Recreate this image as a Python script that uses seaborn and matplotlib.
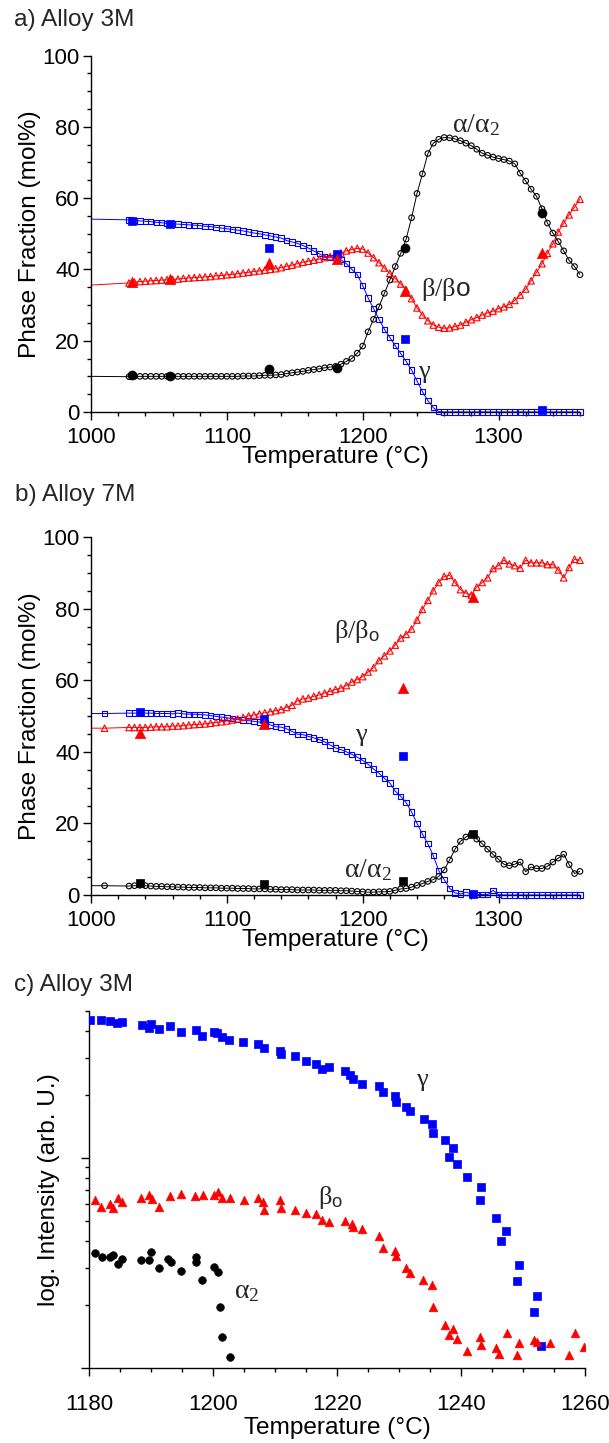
import matplotlib
matplotlib.use("Agg")
import matplotlib.pyplot as plt
import seaborn as sns
from matplotlib.ticker import MultipleLocator, LogLocator, NullFormatter

# ---------------------------------------------------------------- data
# a) Alloy 3M, phase fractions (mol%) from in-situ diffraction
T_a = [1028, 1032, 1036, 1040, 1044, 1048, 1052, 1056, 1060, 1064, 1068, 1072,
       1076, 1080, 1084, 1088, 1092, 1096, 1100, 1104, 1108, 1112, 1116, 1120,
       1124, 1128, 1132, 1136, 1140, 1144, 1148, 1152, 1156, 1160, 1164, 1168,
       1172, 1176, 1180, 1184, 1188, 1192, 1196, 1200, 1204, 1208, 1212, 1216,
       1220, 1224, 1228, 1232, 1236, 1240, 1244, 1248, 1252, 1256, 1260, 1264,
       1268, 1272, 1276, 1280, 1284, 1288, 1292, 1296, 1300, 1304, 1308, 1312,
       1316, 1320, 1324, 1328, 1332, 1336, 1340, 1344, 1348, 1352, 1356, 1360]
gamma_a = [53.9, 53.8, 53.6, 53.5, 53.4, 53.2, 53.1, 52.9, 52.8, 52.7, 52.6, 52.5,
           52.4, 52.3, 52.1, 52.0, 51.8, 51.6, 51.4, 51.2, 51.0, 50.8, 50.5, 50.2,
           50.0, 49.7, 49.4, 49.1, 48.8, 48.1, 47.7, 47.3, 46.7, 46.0, 45.2, 44.4,
           43.6, 43.4, 43.5, 42.7, 41.6, 40.0, 38.5, 35.5, 32.0, 29.0, 26.0, 23.2,
           20.9, 18.6, 16.4, 14.2, 11.8, 8.7, 5.7, 3.2, 1.2, 0.1, 0.0, 0.0,
           0.0, 0.0, 0.0, 0.0, 0.0, 0.0, 0.0, 0.0, 0.0, 0.0, 0.0, 0.0,
           0.0, 0.0, 0.0, 0.0, 0.0, 0.0, 0.0, 0.0, 0.0, 0.0, 0.0, 0.0]
beta_a = [36.2, 36.4, 36.6, 36.7, 36.8, 36.9, 37.0, 37.1, 37.2, 37.3, 37.5, 37.6,
          37.7, 37.8, 37.9, 38.0, 38.2, 38.3, 38.5, 38.6, 38.8, 39.0, 39.2, 39.4,
          39.6, 39.8, 40.0, 40.2, 40.5, 40.9, 41.2, 41.6, 42.0, 42.3, 42.6, 42.9,
          43.3, 43.6, 44.0, 44.6, 45.2, 45.6, 45.9, 45.7, 44.6, 43.3, 41.9, 40.4,
          38.9, 37.4, 35.9, 34.3, 31.8, 29.2, 27.2, 25.6, 24.4, 23.8, 23.5, 23.6,
          24.0, 24.4, 25.2, 25.9, 26.5, 27.2, 27.8, 28.3, 29.0, 29.5, 30.2, 31.3,
          32.8, 34.5, 36.8, 39.2, 41.6, 44.5, 47.2, 50.5, 53.0, 55.3, 57.5, 59.7]
alpha_a = [9.9, 10.0, 10.0, 10.0, 10.0, 10.0, 10.0, 10.0, 10.0, 10.0, 10.0, 10.0,
           10.0, 10.0, 10.0, 10.0, 10.0, 10.0, 10.0, 10.0, 10.0, 10.1, 10.1, 10.1,
           10.2, 10.3, 10.3, 10.4, 10.5, 10.8, 11.0, 11.2, 11.4, 11.7, 11.9, 12.1,
           12.4, 12.6, 12.8, 13.4, 14.2, 15.0, 16.5, 18.5, 22.5, 26.0, 29.5, 33.3,
           37.0, 40.8, 44.5, 48.5, 54.5, 61.3, 66.8, 72.5, 75.4, 76.5, 77.0, 76.9,
           76.6, 76.1, 75.4, 74.7, 73.7, 72.6, 72.0, 71.5, 71.1, 70.8, 70.4, 69.6,
           67.0, 64.8, 62.5, 60.5, 57.0, 53.0, 50.2, 47.8, 45.2, 42.5, 40.8, 38.5]
start_a = {"gamma": 54.1, "beta": 35.6, "alpha": 10.0}   # value of each curve at 1000 °C

T_fill_a = [1030, 1058, 1131, 1181, 1231, 1332]
gamma_fill_a = [53.6, 52.7, 46.1, 44.4, 20.4, 0.5]
beta_fill_a = [36.4, 37.3, 41.7, 43.0, 34.0, 44.5]
alpha_fill_a = [10.3, 10.2, 12.2, 12.4, 45.9, 55.7]

# b) Alloy 7M
T_b = [1010] + T_a
gamma_b = [50.7,
           50.8, 50.8, 50.8, 50.8, 50.8, 50.7, 50.7, 50.7, 50.6, 50.8, 50.6, 50.5,
           50.5, 50.4, 50.3, 50.1, 49.9, 49.7, 49.5, 49.3, 49.1, 48.9, 48.7, 48.5,
           48.3, 48.0, 47.5, 47.0, 46.9, 46.4, 45.7, 44.9, 44.8, 44.3, 43.9, 43.4,
           42.8, 41.9, 41.1, 40.6, 40.0, 39.3, 38.5, 37.6, 36.5, 35.2, 34.0, 32.6,
           31.3, 29.0, 27.6, 25.8, 23.2, 20.0, 17.0, 14.3, 11.0, 6.8, 4.3, 1.9,
           0.6, 0.3, 0.8, 0.3, 0.2, 0.1, 0.1, 1.3, 0.1, 0.0, 0.0, 0.0,
           0.0, 0.0, 0.0, 0.0, 0.0, 0.0, 0.0, 0.0, 0.0, 0.0, 0.0, 0.0]
beta_b = [46.6,
          46.8, 46.8, 46.8, 46.8, 46.9, 47.0, 47.0, 47.0, 47.2, 47.2, 47.3, 47.5,
          47.6, 47.7, 47.8, 48.0, 48.2, 48.4, 48.6, 48.9, 49.2, 49.6, 50.0, 50.3,
          50.6, 50.9, 51.2, 51.5, 51.8, 52.4, 53.0, 54.2, 54.8, 55.0, 55.5, 55.9,
          56.4, 56.9, 57.4, 57.8, 58.5, 59.5, 60.2, 61.0, 62.3, 63.5, 65.5, 66.8,
          68.2, 69.8, 71.8, 72.8, 74.3, 76.8, 79.8, 82.3, 85.0, 87.3, 89.0, 89.3,
          87.3, 85.3, 84.3, 83.8, 86.0, 87.3, 88.6, 91.2, 92.0, 93.5, 92.5, 92.0,
          91.3, 93.5, 92.8, 92.8, 92.8, 92.3, 92.3, 90.8, 88.6, 91.5, 93.8, 93.5]
alpha_b = [2.6,
           2.5, 2.6, 2.7, 2.6, 2.5, 2.4, 2.4, 2.3, 2.3, 2.2, 2.2, 2.1,
           2.1, 2.1, 2.0, 2.0, 2.0, 1.9, 1.9, 1.9, 1.8, 1.8, 1.8, 1.7,
           1.7, 1.7, 1.6, 1.6, 1.5, 1.5, 1.5, 1.4, 1.4, 1.4, 1.4, 1.3,
           1.3, 1.3, 1.3, 1.2, 1.2, 1.1, 1.0, 0.9, 0.8, 0.8, 0.9, 0.9,
           1.0, 1.3, 1.7, 1.8, 2.2, 2.7, 3.2, 3.8, 4.3, 5.2, 7.0, 9.8,
           12.8, 15.0, 16.2, 17.0, 15.6, 14.3, 12.8, 11.3, 10.0, 8.6, 8.2, 8.6,
           9.2, 6.5, 7.8, 7.4, 7.4, 8.0, 9.2, 10.3, 11.4, 8.5, 6.0, 6.6]
start_b = {"gamma": 50.7, "beta": 46.6, "alpha": 2.6}

T_fill_b = [1036, 1127, 1230, 1281]
gamma_fill_b = [51.0, 49.1, 38.8, 0.3]
beta_fill_b = [45.3, 47.9, 57.7, 83.3]
alpha_fill_b = [3.4, 3.1, 3.9, 17.0]

# c) Alloy 3M, integrated peak intensities (log scale, arbitrary units)
T_gamma_c = [1180.2, 1182.0, 1183.4, 1184.5, 1185.3, 1188.5, 1189.7, 1190.0, 1191.3,
             1193.0, 1194.8, 1197.2, 1198.3, 1200.1, 1200.6, 1201.4, 1202.6, 1204.9,
             1207.2, 1208.2, 1210.8, 1210.9, 1213.2, 1215.0, 1216.6, 1217.5, 1218.7,
             1221.3, 1222.1, 1222.6, 1224.1, 1226.7, 1227.4, 1229.4, 1229.5, 1231.1,
             1231.8, 1234.0, 1235.3, 1235.5, 1237.4, 1238.7, 1238.1, 1239.3, 1241.0,
             1243.3, 1243.1, 1245.7, 1247.2, 1246.4, 1249.4, 1249.1, 1252.3, 1251.7,
             1252.9]
I_gamma_c = [45.4, 45.4, 44.6, 43.8, 44.3, 43.0, 41.7, 43.3, 41.1,
             42.2, 39.9, 40.7, 38.1, 39.9, 39.3, 37.8, 36.5, 35.6,
             34.9, 33.3, 32.1, 31.2, 30.4, 28.8, 28.1, 26.5, 27.2,
             25.8, 24.7, 23.8, 22.5, 21.9, 20.6, 19.6, 18.4, 17.5,
             16.7, 15.3, 14.5, 13.2, 12.1, 11.2, 10.1, 9.3, 8.1,
             7.3, 6.3, 5.2, 4.5, 4.0, 3.1, 2.6, 2.2, 1.85,
             1.27]
T_beta_c = [1180.9, 1182.0, 1183.4, 1183.8, 1184.6, 1185.3, 1188.4, 1189.7, 1190.1,
            1191.3, 1193.0, 1194.8, 1197.1, 1198.4, 1200.1, 1200.8, 1201.4, 1202.7,
            1205.0, 1207.2, 1208.0, 1208.3, 1210.8, 1210.9, 1213.2, 1215.0, 1216.6,
            1217.5, 1218.7, 1221.3, 1222.4, 1222.6, 1224.1, 1226.7, 1227.4, 1229.4,
            1229.5, 1231.1, 1231.8, 1233.9, 1235.3, 1235.5, 1237.4, 1238.7, 1238.1,
            1239.3, 1241.0, 1243.1, 1243.3, 1245.6, 1246.2, 1247.4, 1249.3, 1249.1,
            1251.8, 1252.3, 1254.4, 1257.4, 1258.4, 1259.8]
I_beta_c = [6.30, 5.86, 6.00, 5.80, 6.47, 6.15, 6.43, 6.67, 6.38,
            5.86, 6.62, 6.71, 6.62, 6.67, 6.67, 6.87, 6.47, 6.47,
            6.30, 6.43, 6.19, 5.65, 6.30, 5.80, 5.65, 5.46, 5.40,
            5.07, 4.94, 4.98, 4.83, 4.71, 4.59, 4.27, 3.72, 3.61,
            3.43, 2.99, 2.82, 2.61, 2.47, 1.96, 1.60, 1.53, 1.44,
            1.38, 1.21, 1.40, 1.29, 1.24, 1.17, 1.46, 1.31, 1.15,
            1.36, 1.33, 1.32, 1.15, 1.46, 1.26]
T_alpha_c = [1180.9, 1182.1, 1183.4, 1183.8, 1184.6, 1185.4, 1188.4, 1189.7, 1190.0,
             1191.3, 1192.8, 1193.2, 1194.8, 1197.2, 1197.3, 1198.3, 1200.1, 1200.8,
             1201.2, 1201.5, 1202.7]
I_alpha_c = [3.52, 3.39, 3.39, 3.45, 3.12, 3.30, 3.27, 3.27, 3.56,
             2.99, 3.30, 3.18, 2.88, 3.39, 3.18, 2.61, 3.01, 2.86,
             1.96, 1.40, 1.13]

BLUE, RED, BLACK = "#0000FF", "#FF0000", "#000000"

# ---------------------------------------------------------------- style
sns.set_theme(style="ticks")
plt.rcParams["font.family"] = ["Liberation Sans", "DejaVu Sans"]
plt.rcParams["mathtext.fontset"] = "custom"
plt.rcParams["mathtext.rm"] = "Liberation Serif"
plt.rcParams["mathtext.it"] = "Liberation Serif:italic"
plt.rcParams["mathtext.sf"] = "Liberation Sans"

TICK_FS = 16
LABEL_FS = 17.6
GREEK_FAMILY = ["Liberation Serif", "DejaVu Serif"]

fig = plt.figure(figsize=(6.09, 14.43), dpi=100)
W, H = 609.0, 1443.0
ax_a = fig.add_axes([91 / W, 1 - 412 / H, 489 / W, 356.5 / H])
ax_b = fig.add_axes([91 / W, 1 - 895 / H, 489 / W, 358 / H])
ax_c = fig.add_axes([89 / W, 1 - 1368 / H, 496 / W, 357 / H])


def style_axes(ax, xpad):
    for side in ("top", "right"):
        ax.spines[side].set_visible(False)
    for side in ("left", "bottom"):
        ax.spines[side].set_linewidth(1.0)
        ax.spines[side].set_color("black")
    ax.tick_params(which="major", direction="out", length=5.5, width=1.0,
                   colors="black", labelsize=TICK_FS)
    ax.tick_params(which="minor", direction="out", length=3.0, width=1.0,
                   colors="black")
    ax.tick_params(axis="x", which="major", pad=xpad)
    ax.tick_params(axis="y", which="major", pad=2.5)


def draw_phase(ax, T, curves, start, T_fill, fills, fill_markers):
    for key, vals, color, marker, size in curves:
        sns.lineplot(x=[1000] + list(T), y=[start[key]] + list(vals), ax=ax,
                     color=color, lw=0.7, sort=False, estimator=None, zorder=2)
        sns.scatterplot(x=T, y=vals, ax=ax, marker=marker, s=size, color=color,
                        facecolor="none", edgecolor=color, linewidth=0.8,
                        clip_on=False, zorder=3)
    for (vals, color), (marker, size) in zip(fills, fill_markers):
        sns.scatterplot(x=T_fill, y=vals, ax=ax, marker=marker, s=size,
                        color=color, edgecolor=color, linewidth=0.5,
                        clip_on=False, zorder=4)
    ax.set_xlim(1000, 1360)
    ax.set_ylim(0, 100)
    ax.xaxis.set_major_locator(MultipleLocator(100))
    ax.xaxis.set_minor_locator(MultipleLocator(20))
    ax.yaxis.set_major_locator(MultipleLocator(20))
    ax.yaxis.set_minor_locator(MultipleLocator(5))
    style_axes(ax, xpad=5)
    ax.set_xlabel("Temperature (°C)", fontsize=LABEL_FS, color="black")
    ax.set_ylabel("Phase Fraction (mol%)", fontsize=LABEL_FS, color="black")
    ax.xaxis.label.set_va("center")
    ax.yaxis.label.set_va("center")
    ax.xaxis.set_label_coords(0.5, -0.127)
    ax.yaxis.set_label_coords(-0.125, 0.5)


# a) Alloy 3M
draw_phase(
    ax_a, T_a,
    [("gamma", gamma_a, BLUE, "s", 15),
     ("beta", beta_a, RED, "^", 22),
     ("alpha", alpha_a, BLACK, "o", 16)],
    start_a, T_fill_a,
    [(gamma_fill_a, BLUE), (beta_fill_a, RED), (alpha_fill_a, BLACK)],
    [("s", 38), ("^", 55), ("o", 42)],
)
ax_a.text(1283, 80.5, "α/α$_2$", family=GREEK_FAMILY, fontsize=20,
          ha="center", va="center")
ax_a.text(1261, 34.5, "β/β$\\mathsf{o}$", family=GREEK_FAMILY, fontsize=19,
          ha="center", va="center")
ax_a.text(1245, 11.3, "γ", family=GREEK_FAMILY, fontsize=19,
          ha="center", va="center")

# b) Alloy 7M
draw_phase(
    ax_b, T_b,
    [("gamma", gamma_b, BLUE, "s", 15),
     ("beta", beta_b, RED, "^", 22),
     ("alpha", alpha_b, BLACK, "o", 16)],
    start_b, T_fill_b,
    [(gamma_fill_b, BLUE), (beta_fill_b, RED), (alpha_fill_b, BLACK)],
    [("s", 38), ("^", 55), ("s", 38)],
)
ax_b.text(1196, 73.5, "β/β$_\\mathsf{o}$", family=GREEK_FAMILY, fontsize=19,
          ha="center", va="center")
ax_b.text(1199, 44.7, "γ", family=GREEK_FAMILY, fontsize=19,
          ha="center", va="center")
ax_b.text(1204, 7.0, "α/α$_2$", family=GREEK_FAMILY, fontsize=20,
          ha="center", va="center")

# c) Alloy 3M peak intensities
sns.scatterplot(x=T_gamma_c, y=I_gamma_c, ax=ax_c, marker="s", s=26,
                color=BLUE, edgecolor=BLUE, linewidth=0.5, zorder=3)
sns.scatterplot(x=T_beta_c, y=I_beta_c, ax=ax_c, marker="^", s=38,
                color=RED, edgecolor=RED, linewidth=0.5, zorder=3)
sns.scatterplot(x=T_alpha_c, y=I_alpha_c, ax=ax_c, marker="o", s=30,
                color=BLACK, edgecolor=BLACK, linewidth=0.5, zorder=3)
ax_c.set_yscale("log")
ax_c.set_xlim(1180, 1260)
ax_c.set_ylim(1, 50)
ax_c.xaxis.set_major_locator(MultipleLocator(20))
ax_c.xaxis.set_minor_locator(MultipleLocator(5))
ax_c.yaxis.set_major_locator(LogLocator(base=10, subs=(1.0,)))
ax_c.yaxis.set_minor_locator(LogLocator(base=10, subs=(2, 3, 4, 5, 6, 7, 8, 9)))
ax_c.yaxis.set_major_formatter(NullFormatter())
ax_c.yaxis.set_minor_formatter(NullFormatter())
style_axes(ax_c, xpad=13)
ax_c.set_xlabel("Temperature (°C)", fontsize=LABEL_FS, color="black")
ax_c.set_ylabel("log. Intensity (arb. U.)", fontsize=LABEL_FS, color="black")
ax_c.xaxis.label.set_va("center")
ax_c.yaxis.label.set_va("center")
ax_c.xaxis.set_label_coords(0.5, -0.168)
ax_c.yaxis.set_label_coords(-0.08, 0.5)
ax_c.text(1233.7, 23.5, "γ", family=GREEK_FAMILY, fontsize=19,
          ha="center", va="center")
ax_c.text(1218.9, 6.5, "β$_\\mathsf{o}$", family=GREEK_FAMILY, fontsize=19,
          ha="center", va="center")
ax_c.text(1205.4, 2.3, "α$_2$", family=GREEK_FAMILY, fontsize=20,
          ha="center", va="center")

# panel titles
fig.text(14 / W, 1 - 20 / H, "a) Alloy 3M", fontsize=LABEL_FS, va="center", ha="left")
fig.text(15 / W, 1 - 495 / H, "b) Alloy 7M", fontsize=LABEL_FS, va="center", ha="left")
fig.text(14 / W, 1 - 985 / H, "c) Alloy 3M", fontsize=LABEL_FS, va="center", ha="left")

fig.savefig("out.png", dpi=100)
